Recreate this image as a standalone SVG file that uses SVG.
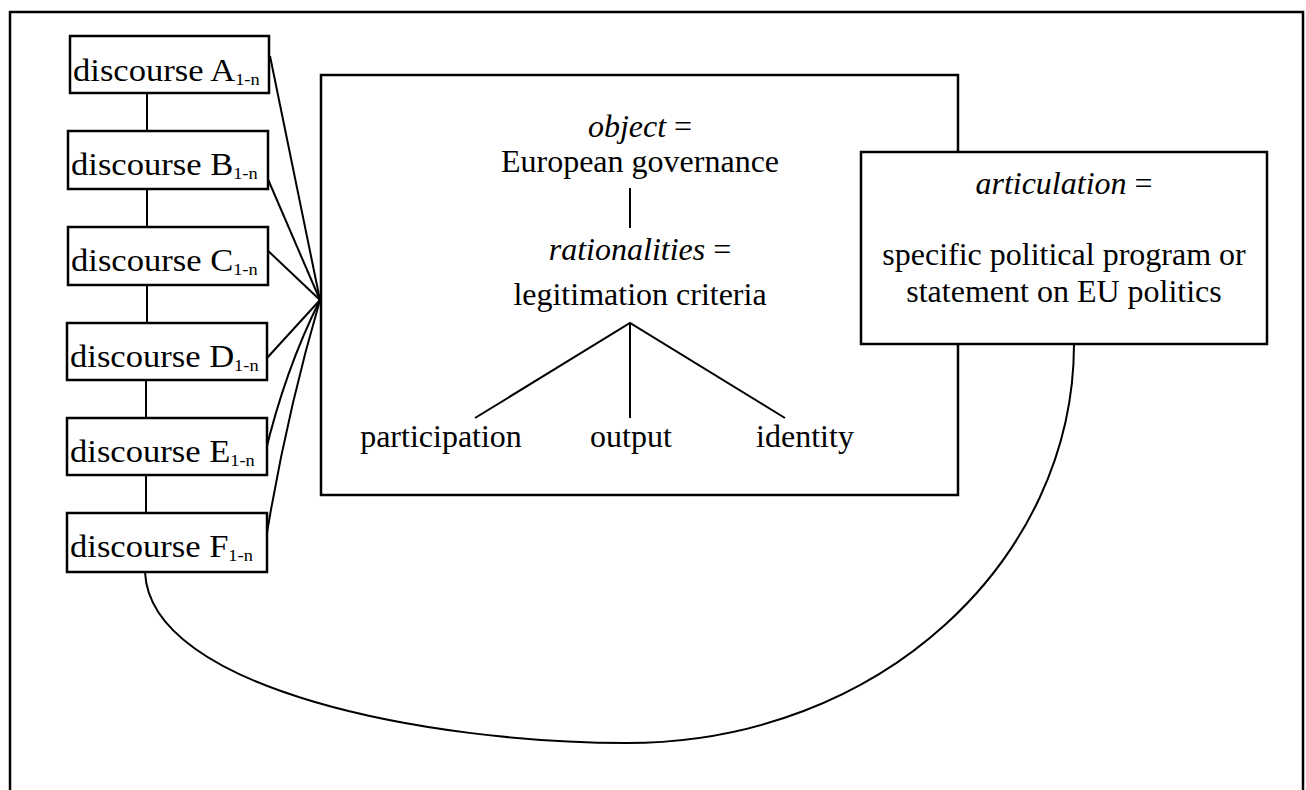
<svg xmlns="http://www.w3.org/2000/svg" width="1306" height="790" viewBox="0 0 1306 790">
<style>
.t{font-family:"Liberation Serif","Times New Roman",serif;font-size:32px;fill:#000}
.it{font-style:italic}
.sub{font-size:17px}
.box{fill:#fff;stroke:#000;stroke-width:2.5}
.ln{fill:none;stroke:#000;stroke-width:2}
</style>
<rect x="0" y="0" width="1306" height="790" fill="#fff"/>
<rect id="frame" x="10" y="12" width="1293" height="800" fill="none" stroke="#000" stroke-width="2.5"/>
<g id="connectors">
<line class="ln" x1="147" y1="93" x2="147" y2="131"/>
<line class="ln" x1="147" y1="189" x2="147" y2="227"/>
<line class="ln" x1="147" y1="285" x2="147" y2="323"/>
<line class="ln" x1="146" y1="380" x2="146" y2="418"/>
<line class="ln" x1="146" y1="475" x2="146" y2="513"/>
<line class="ln" x1="320" y1="300" x2="270" y2="56"/>
<line class="ln" x1="320" y1="300" x2="264" y2="170"/>
<line class="ln" x1="320" y1="300" x2="264" y2="247"/>
<line class="ln" x1="320" y1="300" x2="267" y2="358"/>
<path class="ln" d="M320,300 Q285,370 265,454"/>
<path class="ln" d="M320,300 Q285,420 265,545"/>
<path class="ln" d="M145,572 C150,690 430,743 627,743 C880,743 1074,560 1074,344"/>
</g>
<g id="discourseA"><rect class="box" x="70" y="36" width="199" height="57"/><text class="t" transform="translate(73,81) scale(1.08,1)">discourse A<tspan class="sub" dy="4">1-n</tspan></text></g>
<g id="discourseB"><rect class="box" x="68" y="131" width="200" height="58"/><text class="t" transform="translate(71,175) scale(1.08,1)">discourse B<tspan class="sub" dy="4">1-n</tspan></text></g>
<g id="discourseC"><rect class="box" x="68" y="227" width="200" height="58"/><text class="t" transform="translate(71,271) scale(1.08,1)">discourse C<tspan class="sub" dy="4">1-n</tspan></text></g>
<g id="discourseD"><rect class="box" x="67" y="323" width="200" height="57"/><text class="t" transform="translate(70,367) scale(1.08,1)">discourse D<tspan class="sub" dy="4">1-n</tspan></text></g>
<g id="discourseE"><rect class="box" x="67" y="418" width="200" height="57"/><text class="t" transform="translate(70,462) scale(1.08,1)">discourse E<tspan class="sub" dy="4">1-n</tspan></text></g>
<g id="discourseF"><rect class="box" x="67" y="513" width="200" height="59"/><text class="t" transform="translate(70,557) scale(1.08,1)">discourse F<tspan class="sub" dy="4">1-n</tspan></text></g>
<g id="object">
<rect class="box" x="321" y="75" width="637" height="420"/>
<text class="t" x="640" y="137" text-anchor="middle"><tspan class="it">object</tspan> =</text>
<text class="t" x="640" y="172" text-anchor="middle">European governance</text>
<line class="ln" x1="630" y1="188" x2="630" y2="228"/>
<text class="t" x="640" y="260" text-anchor="middle"><tspan class="it">rationalities</tspan> =</text>
<text class="t" x="640" y="305" text-anchor="middle">legitimation criteria</text>
<path class="ln" d="M475,418 L630,323 L785,418 M630,323 L630,418"/>
<text class="t" x="441" y="447" text-anchor="middle">participation</text>
<text class="t" x="631" y="447" text-anchor="middle">output</text>
<text class="t" x="805" y="447" text-anchor="middle">identity</text>
</g>
<g id="articulation">
<rect class="box" x="861" y="152" width="406" height="192"/>
<text class="t" x="1064" y="194" text-anchor="middle"><tspan class="it">articulation</tspan> =</text>
<text class="t" x="1064" y="265" text-anchor="middle">specific political program or</text>
<text class="t" x="1064" y="302" text-anchor="middle">statement on EU politics</text>
</g>
</svg>
